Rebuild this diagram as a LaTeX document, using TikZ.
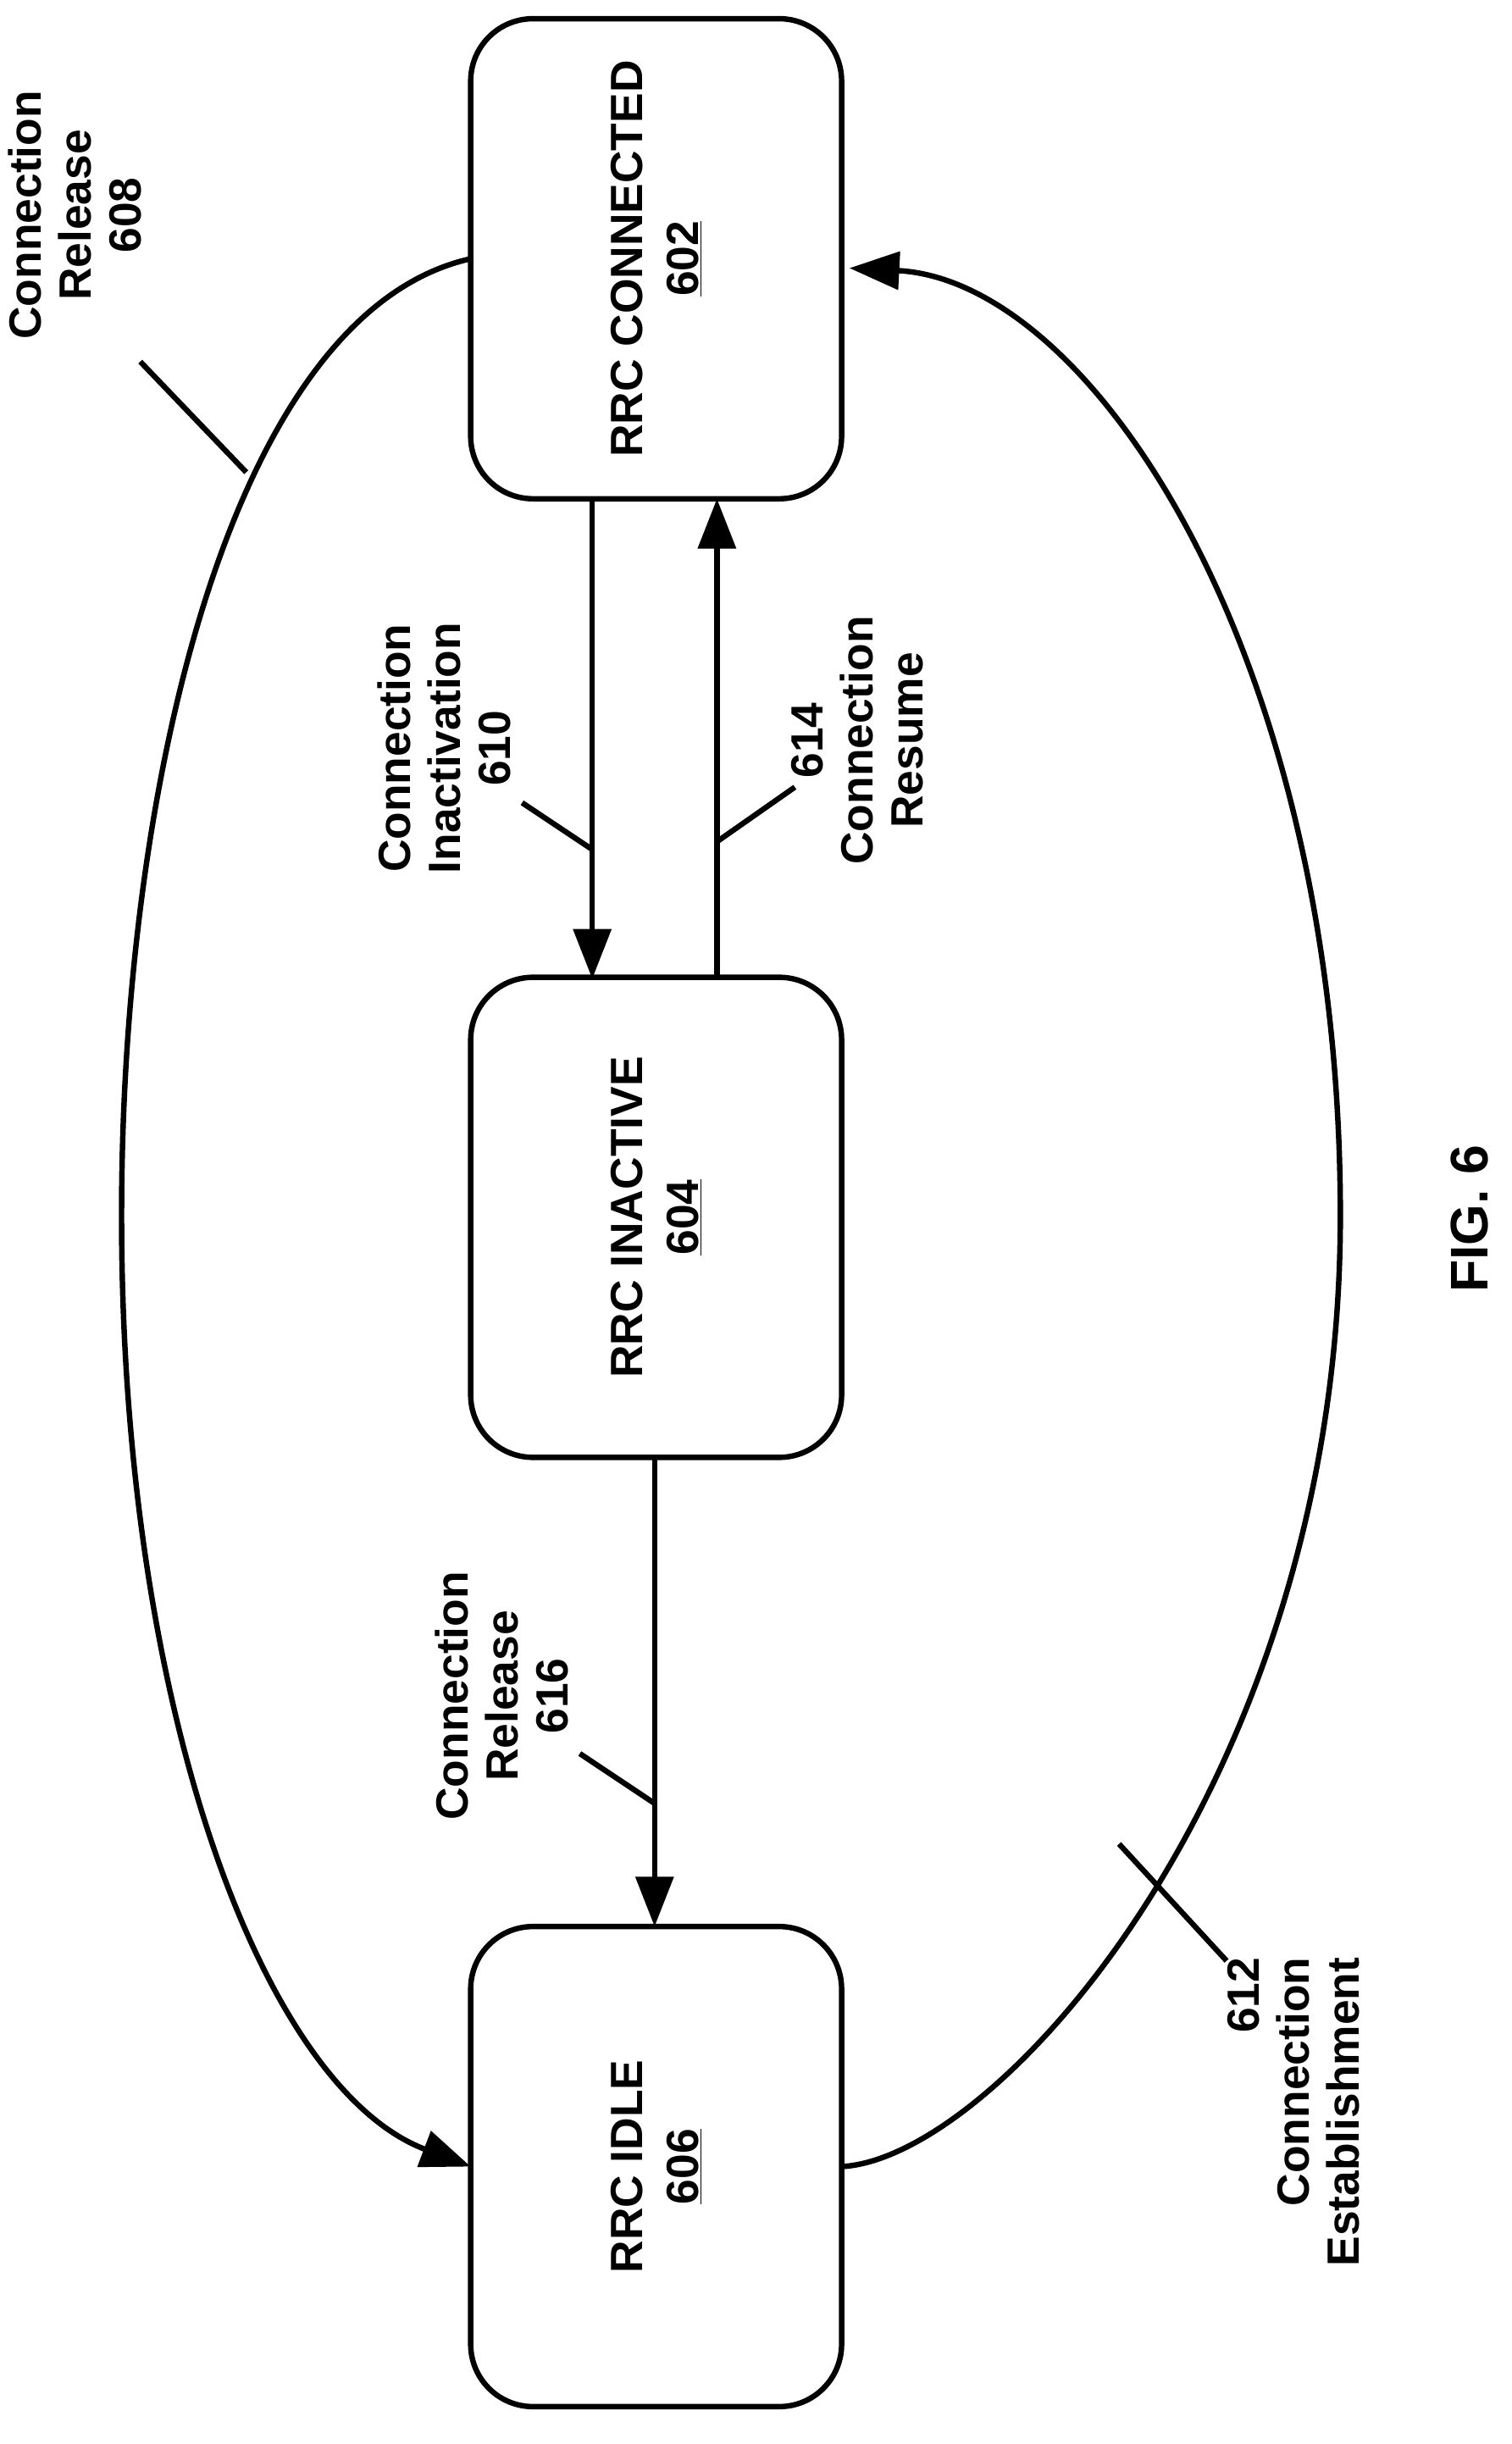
\documentclass[tikz,border=0pt]{standalone}
\usepackage{fontspec}
\setmainfont{Liberation Sans}
\usetikzlibrary{arrows.meta}
\begin{document}
\begin{tikzpicture}[
x=1pt,
y=-1pt,
state/.style={%
draw,
rotate=90,
rounded corners=40pt,
line width=3.5pt,
minimum width=308pt,
minimum height=238pt,
align=center,
font=\fontsize{29}{36}\selectfont\bfseries,
},
lbl/.style={%
rotate=90,
align=center,
font=\fontsize{29}{32}\selectfont\bfseries,
},
flow/.style={%
line width=3.5pt,
-{Triangle[length=32pt,width=24pt]},
},
lead/.style={%
line width=3.5pt,
},
]
\useasboundingbox (0,0) rectangle (970,1568);
%% States
\node[state]at(421,166)(con){RRC CONNECTED\\\underline{602}};
\node[state]at(421,781)(inact){RRC INACTIVE\\\underline{604}};
\node[state]at(421,1390)(idle){RRC IDLE\\\underline{606}};
%% Connector ends on the boxes
\coordinate(con_w)at(302,166);\coordinate(con_e)at(545,172);
\coordinate(con_s1)at(380,320);\coordinate(con_s2)at(460,320);
\coordinate(in_n1)at(380,628);\coordinate(in_n2)at(460,628);
\coordinate(in_s)at(420,935);
\coordinate(idle_n)at(420,1236);
\coordinate(idle_w)at(302,1390);\coordinate(idle_e)at(540,1390);
%% Straight transitions
\draw[flow](con_s1)--(in_n1);
\draw[flow](in_n2)--(con_s2);
\draw[flow](in_s)--(idle_n);
%% Outer loop
\draw[flow](con_w)..controls(150,200)and(78,500)..(78,780)
..controls(78,1100)and(170,1340)..(idle_w);
\draw[flow](idle_e)..controls(640,1385)and(860,1140)..(860,780)
..controls(860,420)and(700,180)..(con_e);
%% Labels
\node[lbl]at(48,138)(l608){Connection\\Release\\608};
\node[lbl]at(285,480)(l610){Connection\\Inactivation\\610};
\node[lbl]at(550,475)(l614){614\\Connection\\Resume};
\node[lbl]at(322,1088)(l616){Connection\\Release\\616};
\node[lbl,align=right]at(830,1355)(l612){612\\Connection\\Establishment};
\node[lbl,font=\fontsize{34}{40}\selectfont\bfseries]at(943,782)(fig){FIG. 6};
%% Leaders
\coordinate(a608)at(90,232);\coordinate(b608)at(158,303);
\coordinate(a610)at(335,515);\coordinate(b610)at(380,545);
\coordinate(a614)at(510,505);\coordinate(b614)at(460,540);
\coordinate(a616)at(372,1125);\coordinate(b616)at(420,1157);
\coordinate(a612)at(787,1258);\coordinate(b612)at(718,1183);
\foreach \n in {608,610,614,616,612}{%
\draw[lead](a\n)--(b\n);
}
\end{tikzpicture}
\end{document}
